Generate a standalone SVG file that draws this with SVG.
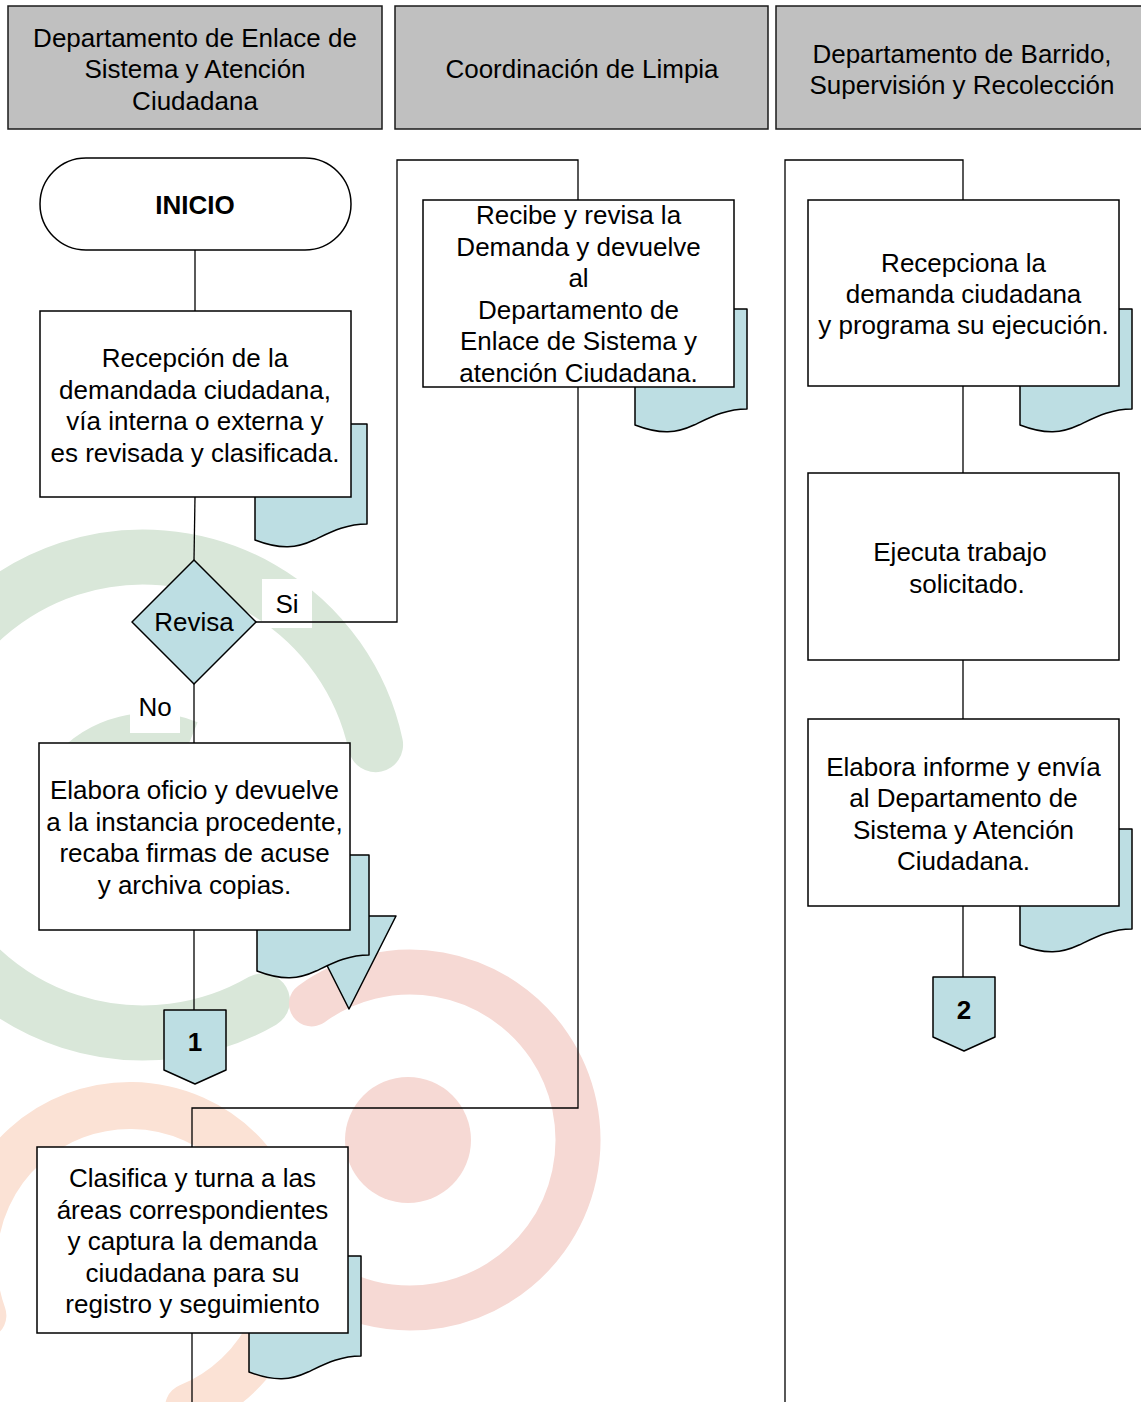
<svg xmlns="http://www.w3.org/2000/svg" width="1141" height="1402" viewBox="0 0 1141 1402">
<defs>
<style>
text{font-family:"Liberation Sans",Arial,sans-serif;font-size:26px;fill:#000;text-anchor:middle}
.b{font-weight:bold}
.hdr{fill:#c0c0c0;stroke:#1a1a1a;stroke-width:1.5}
.box{fill:#fff;stroke:#000;stroke-width:1.5}
.blue{fill:#bddee3;stroke:#000;stroke-width:1.5;stroke-linejoin:round}
.ln{fill:none;stroke:#000;stroke-width:1.3}
.lbl{fill:#fff;stroke:none}
</style>
<path id="doc" d="M0,0 H112 V100 C91,100 76,108 59,116 C42,124 26,126 0,116 Z"/>
<path id="opc" d="M0,0 H62 V60 L31,74 L0,60 Z"/>
</defs>
<rect width="1141" height="1402" fill="#fff"/>
<g id="watermark" fill="none" stroke-linecap="round">
<path d="M375.6,744.7 A238,238 0 1 0 262.4,1000.9" stroke="#d9e7d9" stroke-width="55"/>
<path d="M68,771.2 A107,107 0 0 1 190.1,740.8" stroke="#d9e7d9" stroke-width="40" stroke-linecap="butt"/>
<path d="M311.5,1003.9 A168,168 0 1 1 264.5,1224" stroke="#f6d9d4" stroke-width="45"/>
<circle cx="408" cy="1140" r="63" fill="#f6d9d4" stroke="none"/>
<path d="M188.6,1407.1 A156.5,156.5 0 1 0 -17.1,1315.5" stroke="#fbe2d5" stroke-width="47"/>
</g>
<g id="headers">
<g id="lane-1"><rect class="hdr" x="8" y="6" width="374" height="123"/><text><tspan x="195" y="47">Departamento de Enlace de</tspan><tspan x="195" y="78">Sistema y Atención</tspan><tspan x="195" y="110">Ciudadana</tspan></text></g>
<g id="lane-2"><rect class="hdr" x="395" y="6" width="373" height="123"/><text x="582" y="78">Coordinación de Limpia</text></g>
<g id="lane-3"><rect class="hdr" x="776" y="6" width="380" height="123"/><text><tspan x="962" y="63">Departamento de Barrido,</tspan><tspan x="962" y="94">Supervisión y Recolección</tspan></text></g>
</g>
<g id="labels">
<rect class="lbl" x="262" y="579" width="50" height="49"/>
<rect class="lbl" x="130" y="689" width="50" height="44"/>
</g>
<g id="connectors" class="ln">
<path d="M195,250 V311"/>
<path d="M195,497 L194,560"/>
<path d="M256,622 H397 V160 H578 V200"/>
<path d="M578,387 V1108 H192 V1147"/>
<path d="M194,684 V743"/>
<path d="M194,930 V1010"/>
<path d="M192,1333 V1402"/>
<path d="M785,1402 V160 H963 V200"/>
<path d="M963,386 V473"/>
<path d="M963,660 V719"/>
<path d="M963,906 V977"/>
</g>
<g id="label-text">
<text x="287" y="613">Si</text>
<text x="155" y="716">No</text>
</g>
<g id="inicio"><rect class="box" x="40" y="158" width="311" height="92" rx="46" ry="46"/><text class="b" x="195" y="214">INICIO</text></g>
<g id="recepcion">
<use href="#doc" class="blue" x="255" y="424"/>
<rect class="box" x="40" y="311" width="311" height="186"/>
<text><tspan x="195" y="367">Recepción de la</tspan><tspan x="195" y="399">demandada ciudadana,</tspan><tspan x="195" y="430">vía interna o externa y</tspan><tspan x="195" y="462">es revisada y clasificada.</tspan></text>
</g>
<g id="revisa"><path class="blue" d="M194,560 L256,622 L194,684 L132,622 Z"/><text x="194" y="631">Revisa</text></g>
<g id="elabora-oficio">
<path class="blue" d="M302,916 L396,916 L349,1009 Z"/>
<use href="#doc" class="blue" x="257" y="855"/>
<rect class="box" x="39" y="743" width="311" height="187"/>
<text><tspan x="194.5" y="799">Elabora oficio y devuelve</tspan><tspan x="194.5" y="831">a la instancia procedente,</tspan><tspan x="194.5" y="862">recaba firmas de acuse</tspan><tspan x="194.5" y="894">y archiva copias.</tspan></text>
</g>
<g id="conector-1"><use href="#opc" class="blue" x="164" y="1010"/><text class="b" x="195" y="1051">1</text></g>
<g id="clasifica">
<use href="#doc" class="blue" x="249" y="1256"/>
<rect class="box" x="37" y="1147" width="311" height="186"/>
<text><tspan x="192.5" y="1187">Clasifica y turna a las</tspan><tspan x="192.5" y="1219">áreas correspondientes</tspan><tspan x="192.5" y="1250">y captura la demanda</tspan><tspan x="192.5" y="1282">ciudadana para su</tspan><tspan x="192.5" y="1313">registro y seguimiento</tspan></text>
</g>
<g id="recibe">
<use href="#doc" class="blue" x="635" y="309"/>
<rect class="box" x="423" y="200" width="311" height="187"/>
<text><tspan x="578.5" y="224">Recibe y revisa la</tspan><tspan x="578.5" y="256">Demanda y devuelve</tspan><tspan x="578.5" y="287">al</tspan><tspan x="578.5" y="319">Departamento de</tspan><tspan x="578.5" y="350">Enlace de Sistema y</tspan><tspan x="578.5" y="382">atención Ciudadana.</tspan></text>
</g>
<g id="recepciona">
<use href="#doc" class="blue" x="1020" y="309"/>
<rect class="box" x="808" y="200" width="311" height="186"/>
<text><tspan x="963.5" y="272">Recepciona la</tspan><tspan x="963.5" y="303">demanda ciudadana</tspan><tspan x="963.5" y="334">y programa su ejecución.</tspan></text>
</g>
<g id="ejecuta">
<rect class="box" x="808" y="473" width="311" height="187"/>
<text><tspan x="960" y="561">Ejecuta trabajo</tspan><tspan x="967" y="593">solicitado.</tspan></text>
</g>
<g id="elabora-informe">
<use href="#doc" class="blue" x="1020" y="829"/>
<rect class="box" x="808" y="719" width="311" height="187"/>
<text><tspan x="963.5" y="776">Elabora informe y envía</tspan><tspan x="963.5" y="807">al Departamento de</tspan><tspan x="963.5" y="839">Sistema y Atención</tspan><tspan x="963.5" y="870">Ciudadana.</tspan></text>
</g>
<g id="conector-2"><use href="#opc" class="blue" x="933" y="977"/><text class="b" x="964" y="1019">2</text></g>
</svg>
